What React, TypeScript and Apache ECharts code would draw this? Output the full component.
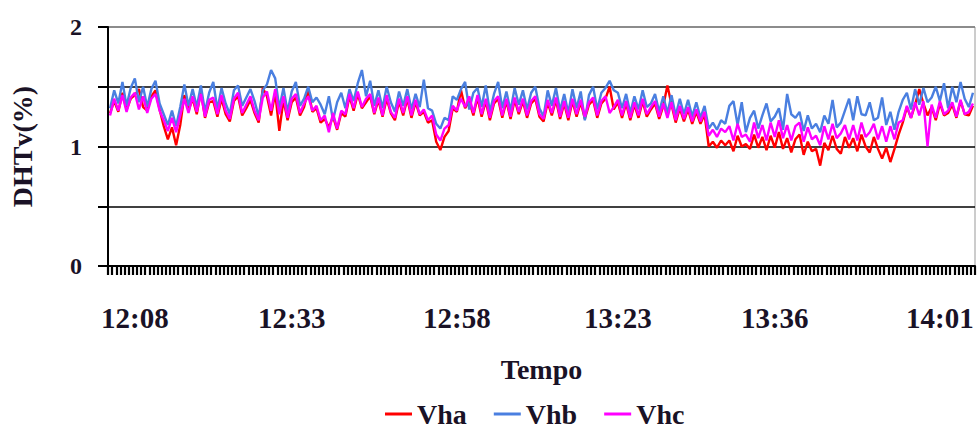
import React, { useEffect, useRef } from "react";
import * as echarts from "echarts";

const tickLabels = ["12:08", "12:33", "12:58", "13:23", "13:36", "14:01"];
const labelIndex = [6, 44, 84, 123, 161, 201];

const vha = [
  1.28, 1.38, 1.29, 1.45, 1.31, 1.40, 1.43, 1.48, 1.33, 1.30,
  1.42, 1.47, 1.31, 1.17, 1.06, 1.16, 1.01, 1.18, 1.43, 1.30,
  1.40, 1.27, 1.46, 1.24, 1.37, 1.38, 1.25, 1.40, 1.27, 1.21,
  1.38, 1.42, 1.26, 1.32, 1.39, 1.28, 1.20, 1.49, 1.42, 1.26,
  1.45, 1.13, 1.39, 1.22, 1.37, 1.41, 1.26, 1.33, 1.48, 1.29,
  1.32, 1.20, 1.23, 1.16, 1.25, 1.14, 1.28, 1.25, 1.42, 1.30,
  1.44, 1.32, 1.37, 1.42, 1.27, 1.39, 1.25, 1.40, 1.28, 1.22,
  1.38, 1.26, 1.40, 1.24, 1.37, 1.26, 1.29, 1.20, 1.22, 1.04,
  0.97, 1.08, 1.13, 1.32, 1.29, 1.47, 1.32, 1.38, 1.26, 1.41,
  1.25, 1.38, 1.22, 1.36, 1.40, 1.24, 1.38, 1.23, 1.39, 1.27,
  1.38, 1.24, 1.36, 1.40, 1.25, 1.21, 1.37, 1.26, 1.39, 1.23,
  1.36, 1.22, 1.38, 1.25, 1.37, 1.23, 1.35, 1.39, 1.24, 1.36,
  1.40, 1.50, 1.31, 1.37, 1.24, 1.36, 1.22, 1.35, 1.24, 1.38,
  1.25, 1.31, 1.36, 1.23, 1.34, 1.51, 1.35, 1.20, 1.32, 1.21,
  1.31, 1.19, 1.29, 1.19, 1.27, 1.00, 1.04, 0.99, 1.05, 1.01,
  1.05, 0.96, 1.09, 1.00, 1.02, 0.98, 1.10, 0.99, 1.08, 0.97,
  1.09, 0.99, 1.12, 0.98, 1.07, 0.95, 1.06, 1.10, 0.93, 1.04,
  0.96, 0.98, 0.84, 1.03, 0.97, 1.09, 0.98, 0.94, 1.08, 0.99,
  1.07, 0.96, 1.10, 1.00, 0.95, 1.08, 0.98, 0.90, 0.99, 0.87,
  0.98, 1.10, 1.20, 1.33, 1.24, 1.35, 1.48, 1.36, 1.26, 1.33,
  1.22, 1.36, 1.26, 1.28, 1.35, 1.24, 1.38, 1.27, 1.26, 1.34,
];

const vhb = [
  1.32, 1.47, 1.36, 1.54, 1.34, 1.49, 1.57, 1.37, 1.50, 1.33,
  1.48, 1.55, 1.36, 1.27, 1.18, 1.30, 1.17, 1.33, 1.52, 1.34,
  1.48, 1.33, 1.51, 1.29, 1.45, 1.54, 1.31, 1.49, 1.36, 1.27,
  1.47, 1.51, 1.34, 1.41, 1.48, 1.38, 1.25, 1.47, 1.52, 1.64,
  1.57, 1.32, 1.49, 1.29, 1.46, 1.54, 1.34, 1.40, 1.50, 1.37,
  1.41, 1.35, 1.27, 1.42, 1.22, 1.37, 1.45, 1.32, 1.48, 1.38,
  1.53, 1.64, 1.42, 1.55, 1.34, 1.47, 1.32, 1.50, 1.37, 1.29,
  1.46, 1.34, 1.48, 1.31, 1.44, 1.33, 1.56, 1.32, 1.30, 1.19,
  1.15, 1.24, 1.22, 1.42, 1.39, 1.48, 1.54, 1.31, 1.45, 1.49,
  1.33, 1.51, 1.29, 1.44, 1.54, 1.32, 1.46, 1.30, 1.49, 1.35,
  1.47, 1.31, 1.45, 1.50, 1.32, 1.25, 1.47, 1.34, 1.49, 1.30,
  1.44, 1.28, 1.48, 1.32, 1.46, 1.22, 1.43, 1.50, 1.31, 1.45,
  1.49, 1.55, 1.47, 1.45, 1.32, 1.44, 1.28, 1.42, 1.31, 1.47,
  1.33, 1.36, 1.44, 1.29, 1.42, 1.28, 1.43, 1.26, 1.40, 1.27,
  1.39, 1.25, 1.37, 1.24, 1.34, 1.15, 1.20, 1.14, 1.22, 1.19,
  1.34, 1.38, 1.18, 1.37, 1.12, 1.24, 1.30, 1.15, 1.26, 1.36,
  1.21, 1.25, 1.32, 1.14, 1.44, 1.27, 1.24, 1.29, 1.13, 1.26,
  1.15, 1.19, 1.12, 1.26, 1.19, 1.39, 1.16, 1.20, 1.30, 1.40,
  1.22, 1.42, 1.27, 1.26, 1.37, 1.22, 1.24, 1.41, 1.18, 1.29,
  1.14, 1.29, 1.39, 1.45, 1.31, 1.48, 1.35, 1.49, 1.37, 1.41,
  1.50, 1.38, 1.53, 1.32, 1.50, 1.37, 1.54, 1.40, 1.33, 1.45,
];

const vhc = [
  1.26, 1.40, 1.30, 1.43, 1.29, 1.41, 1.45, 1.31, 1.42, 1.28,
  1.40, 1.44, 1.30, 1.22, 1.13, 1.24, 1.12, 1.26, 1.40, 1.28,
  1.42, 1.29, 1.44, 1.25, 1.39, 1.41, 1.27, 1.43, 1.30, 1.23,
  1.40, 1.45, 1.28, 1.35, 1.42, 1.30, 1.22, 1.41, 1.46, 1.30,
  1.48, 1.27, 1.42, 1.24, 1.40, 1.44, 1.28, 1.36, 1.42, 1.30,
  1.34, 1.22, 1.26, 1.12, 1.28, 1.15, 1.30, 1.27, 1.44, 1.32,
  1.46, 1.33, 1.40, 1.44, 1.28, 1.41, 1.26, 1.43, 1.29, 1.24,
  1.40, 1.28, 1.42, 1.26, 1.39, 1.27, 1.31, 1.22, 1.26, 1.10,
  1.05, 1.15, 1.18, 1.34, 1.30, 1.40, 1.33, 1.42, 1.28, 1.43,
  1.27, 1.40, 1.24, 1.38, 1.42, 1.26, 1.40, 1.25, 1.41, 1.29,
  1.40, 1.26, 1.38, 1.42, 1.27, 1.23, 1.39, 1.28, 1.41, 1.25,
  1.38, 1.24, 1.40, 1.27, 1.39, 1.25, 1.37, 1.41, 1.26, 1.38,
  1.42, 1.28, 1.33, 1.39, 1.26, 1.38, 1.24, 1.37, 1.26, 1.40,
  1.27, 1.33, 1.38, 1.25, 1.36, 1.24, 1.37, 1.22, 1.34, 1.23,
  1.33, 1.21, 1.31, 1.21, 1.29, 1.09, 1.14, 1.08, 1.15, 1.12,
  1.17, 1.05, 1.19, 1.08, 1.10, 1.04, 1.20, 1.07, 1.18, 1.05,
  1.20, 1.08, 1.22, 1.07, 1.18, 1.05, 1.17, 1.20, 1.04, 1.16,
  1.06, 1.09, 1.01, 1.17, 1.06, 1.19, 1.07, 1.11, 1.18, 1.06,
  1.18, 1.05, 1.20, 1.08, 1.12, 1.19, 1.06, 1.17, 1.04, 1.17,
  1.06, 1.20, 1.22, 1.34, 1.24, 1.37, 1.26, 1.38, 1.00, 1.35,
  1.24, 1.38, 1.27, 1.30, 1.37, 1.25, 1.39, 1.27, 1.29, 1.36,
];

const categories = vhc.map((_, i) => {
  const k = labelIndex.indexOf(i);
  return k >= 0 ? tickLabels[k] : "t" + i;
});

const FONT = "'Liberation Serif', 'Times New Roman', serif";
const TXT = "#1a1226";

export default function App() {
  const ref = useRef<HTMLDivElement>(null);
  useEffect(() => {
    if (!ref.current) return;
    const chart = echarts.init(ref.current, null, { renderer: "svg" });
    chart.setOption({
      animation: false,
      backgroundColor: "#fff",
      grid: {
        left: 100,
        right: 2,
        top: 27,
        bottom: 162,
        show: true,
        borderColor: "#999",
        borderWidth: 1,
        backgroundColor: "transparent",
      },
      legend: {
        left: 380,
        top: 395,
        icon: "rect",
        itemWidth: 27,
        itemHeight: 3,
        itemGap: 27,
        textStyle: { fontFamily: FONT, fontWeight: "bold", fontSize: 28, color: TXT },
        data: ["Vha", "Vhb", "Vhc"],
      },
      xAxis: {
        type: "category",
        data: categories,
        boundaryGap: true,
        name: "Tempo",
        nameLocation: "middle",
        nameGap: 89,
        nameTextStyle: { fontFamily: FONT, fontWeight: "bold", fontSize: 28, color: TXT },
        axisLine: { show: true, lineStyle: { color: "#000", width: 2 } },
        axisTick: { show: true, interval: 0, length: 9, lineStyle: { color: "#000", width: 2.2 } },
        axisLabel: {
          interval: (index: number) => labelIndex.indexOf(index) >= 0,
          margin: 37,
          fontFamily: FONT,
          fontWeight: "bold",
          fontSize: 29,
          color: TXT,
        },
        splitLine: { show: false },
      },
      yAxis: {
        type: "value",
        min: 0,
        max: 2,
        interval: 0.5,
        name: "DHTv(%)",
        nameLocation: "middle",
        nameGap: 72,
        nameRotate: 90,
        nameTextStyle: { fontFamily: FONT, fontWeight: "bold", fontSize: 28, color: TXT },
        axisLine: { show: true, lineStyle: { color: "#000", width: 2 } },
        axisTick: { show: true, length: 10, lineStyle: { color: "#000", width: 2 } },
        axisLabel: {
          formatter: (v: number) => (v % 1 === 0 ? String(v) : ""),
          margin: 26,
          fontFamily: FONT,
          fontWeight: "bold",
          fontSize: 24,
          color: TXT,
        },
        splitLine: {
          show: true,
          lineStyle: { color: ["#000", "#000", "#000", "#000", "#777"], width: 1.5 },
        },
      },
      series: [
        { name: "Vha", type: "line", data: vha, showSymbol: false, color: "#ff0000", lineStyle: { width: 2.4, color: "#ff0000" } },
        { name: "Vhb", type: "line", data: vhb, showSymbol: false, color: "#4a7fe0", lineStyle: { width: 2.4, color: "#4a7fe0" } },
        { name: "Vhc", type: "line", data: vhc, showSymbol: false, color: "#ff00ff", lineStyle: { width: 2.4, color: "#ff00ff" } },
      ],
    });
    return () => chart.dispose();
  }, []);
  return (
    <div
      ref={ref}
      style={{ position: "fixed", left: 0, top: 0, width: 977, height: 428 }}
    />
  );
}
